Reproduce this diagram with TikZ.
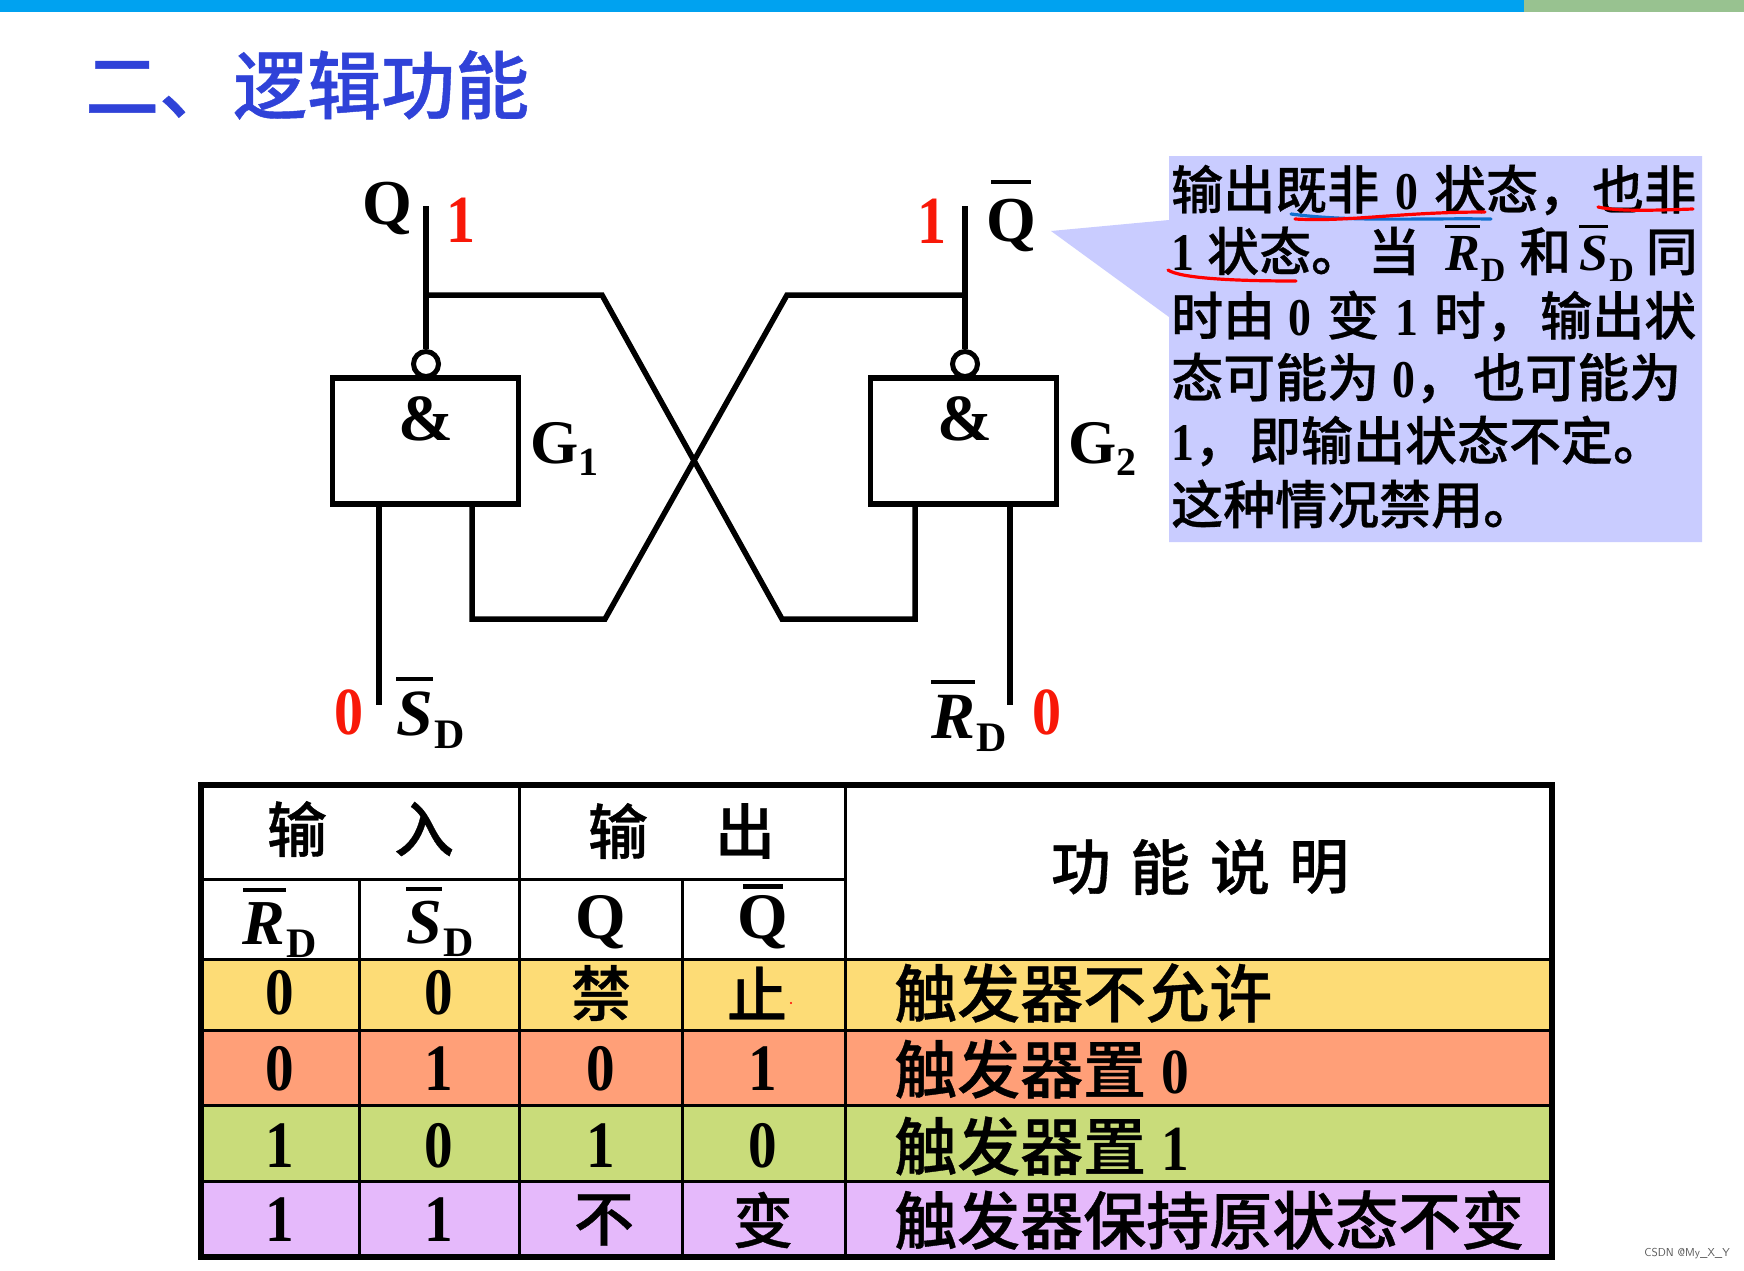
\documentclass[tikz,border=0pt]{standalone}
\usepackage{fontspec}
\setmainfont{Liberation Serif}
\newfontfamily\cjkb[FakeBold=0.6]{Noto Sans CJK SC Medium}
\newcommand\zh[1]{{\cjkb\mdseries #1}}
\newcommand\nd[1]{\scalebox{0.88}[1.02]{\bfseries #1}}
\newcommand\ovr[1]{\setbox0\hbox{#1}\rlap{\raisebox{0.82em}{\rule{\wd0}{0.065em}}}\box0}
\newcommand\ovq[1]{\rlap{\hspace{0.08em}\raisebox{#1}{\rule{0.62em}{0.065em}}}Q}
\newcommand\fs[1]{\fontsize{#1}{#1}\selectfont}
\newcommand\lab[3]{{\fs{#2}\ovr{\bfseries\itshape #1}\kern0.02em\raisebox{-0.2em}{\fs{#3}\bfseries D}}}
\newcommand\gp{\hspace{16pt}}
\definecolor{barblue}{HTML}{00A2F0}
\definecolor{bargreen}{HTML}{98C290}
\definecolor{titleblue}{HTML}{2F42D8}
\definecolor{callout}{HTML}{C9CCFF}
\definecolor{rowa}{HTML}{FDDC76}
\definecolor{rowb}{HTML}{FF9F78}
\definecolor{rowc}{HTML}{C9DC7A}
\definecolor{rowd}{HTML}{E5B9FB}
\definecolor{redlab}{HTML}{F81808}
\definecolor{markblue}{HTML}{1070D0}
\tikzset{
 wire/.style={line width=5.5pt,line join=miter,line cap=butt},
 gate/.style={draw,line width=5.5pt,minimum width=186pt,minimum height=126pt,inner sep=0pt,anchor=north west},
 bubble/.style={circle,draw,line width=5pt,minimum size=25pt,inner sep=0pt},
 txt/.style={inner sep=0pt,font=\bfseries\fs{60}},
 redt/.style={txt,text=redlab},
 cell/.style={inner sep=0pt,font=\bfseries\fs{65}},
 zhcell/.style={inner sep=0pt,font=\cjkb\fs{60}},
 noteline/.style={inner sep=0pt,anchor=west,font=\bfseries\fs{52}},
 desc/.style={inner sep=0pt,anchor=west,font=\bfseries\fs{63}},
 grid/.style={line width=3pt},
 ink/.style={line width=3.2pt,line cap=round,draw=red}
}
\begin{document}
\begin{tikzpicture}[x=1pt,y=-1pt]
\useasboundingbox (0,0) rectangle (1744,1270);
\fill[white] (0,0) rectangle (1744,1270);
\fill[barblue] (0,0) rectangle (1524,12);
\fill[bargreen] (1524,0) rectangle (1744,12);
\node[inner sep=0pt,anchor=west,text=titleblue,font=\cjkb\fs{74}] (title) at (85,85) {二、逻辑功能};

% callout
\fill[callout] (1169,156) -- (1702,156) -- (1702,542) -- (1169,542) -- (1169,317) -- (1051,231) -- (1169,220) -- cycle;
\node[noteline] (n1) at (1171,190) {\makebox[525pt][s]{\zh{输出既非}\gp\nd{0}\gp\zh{状态，}\hfill\zh{也非}}};
\node[noteline] (n2) at (1171,253) {\nd{1} \zh{状态。}\hspace{5pt}\zh{当}\hspace{25pt}\lab{R}{52}{34}\hspace{14pt}\zh{和}\hspace{8pt}\lab{S}{52}{34}\hspace{12pt}\zh{同}};
\node[noteline] (n3) at (1171,316) {\makebox[525pt][s]{\zh{时由} \nd{0}\gp\zh{变}\gp\nd{1}\gp\zh{时，}\hfill\zh{输出状}}};
\node[noteline] (n4) at (1171,378) {\makebox[510pt][s]{\zh{态可能为} \nd{0}\zh{，}\hfill\zh{也可能为}}};
\node[noteline] (n5) at (1171,441) {\nd{1}\zh{，}\hspace{3pt}\zh{即输出状态不定。}};
\node[noteline] (n6) at (1171,504) {\zh{这种情况禁用。}};
\draw[ink,markblue] (1291,214) .. controls (1350,222) and (1420,218) .. (1491,219);
\draw[ink] (1295,219) .. controls (1350,222) and (1400,212) .. (1485,212);
\draw[ink] (1598,207) .. controls (1620,212) and (1660,210) .. (1693,209);
\draw[ink] (1168,270) .. controls (1180,278) and (1230,281) .. (1296,281);

% gates
\node[gate] (g1) at (329.5,375) {};
\node[gate] (g2) at (867.5,375) {};
\node[bubble] (b1) at (426,364) {};
\node[bubble] (b2) at (965,364) {};
\node[txt,font=\bfseries\fs{66}] (amp1) at (426,419) {\&};
\node[txt,font=\bfseries\fs{66}] (amp2) at (965,419) {\&};
\node[txt,anchor=west,font=\bfseries\fs{62}] (gl1) at (530,449) {G\raisebox{-0.18em}{\fs{40}1}};
\node[txt,anchor=west,font=\bfseries\fs{62}] (gl2) at (1068,449) {G\raisebox{-0.18em}{\fs{40}2}};

\coordinate (qtop) at (426,206);
\coordinate (qbtop) at (965,206);
\coordinate (qj) at (426,295);
\coordinate (qbj) at (965,295);
\coordinate (x1a) at (602,295);
\coordinate (x1b) at (782,619);
\coordinate (x1c) at (915,619);
\coordinate (x1d) at (915,504);
\coordinate (x2a) at (787,295);
\coordinate (x2b) at (605,619);
\coordinate (x2c) at (472,619);
\coordinate (x2d) at (472,504);
\coordinate (sd0) at (379,504);
\coordinate (sd1) at (379,705);
\coordinate (rd0) at (1010,504);
\coordinate (rd1) at (1010,705);
\draw[wire] (qtop) -- (b1.north);
\draw[wire] (qbtop) -- (b2.north);
\draw[wire] (qj) -- (x1a) -- (x1b) -- (x1c) -- (x1d);
\draw[wire] (qbj) -- (x2a) -- (x2b) -- (x2c) -- (x2d);
\draw[wire] (sd0) -- (sd1);
\draw[wire] (rd0) -- (rd1);

\node[txt,font=\bfseries\fs{64}] (lq) at (387,208) {Q};
\node[redt,font=\bfseries\fs{66}] (l1a) at (461,220) {\nd{1}};
\node[redt,font=\bfseries\fs{66}] (l1b) at (932,221) {\nd{1}};
\node[txt,font=\bfseries\fs{64},anchor=base] (lqb) at (1011,241) {\ovq{0.89em}};
\node[redt,font=\bfseries\fs{66}] (l0a) at (349,712) {\nd{0}};
\node[redt,font=\bfseries\fs{66}] (l0b) at (1047,712) {\nd{0}};
\node[inner sep=0pt,anchor=west] (lsd) at (396,713) {\lab{S}{66}{42}};
\node[inner sep=0pt,anchor=west] (lrd) at (931,716) {\lab{R}{66}{42}};

% table
\fill[rowa] (201,959) rectangle (1552,1030);
\fill[rowb] (201,1030) rectangle (1552,1105);
\fill[rowc] (201,1105) rectangle (1552,1181);
\fill[rowd] (201,1181) rectangle (1552,1257);
\draw[grid] (201,879) -- (845,879);
\draw[grid] (201,959) -- (1552,959);
\draw[grid] (201,1030) -- (1552,1030);
\draw[grid] (201,1105) -- (1552,1105);
\draw[grid] (201,1181) -- (1552,1181);
\draw[grid] (359,879) -- (359,1257);
\draw[grid] (519,785) -- (519,1257);
\draw[grid] (682,879) -- (682,1257);
\draw[grid] (845,785) -- (845,1257);
\draw[line width=5.5pt] (201,785) rectangle (1552,1257);

\node[zhcell] (h1) at (297,829) {输};
\node[zhcell] (h2) at (424,829) {入};
\node[zhcell] (h3) at (618,831) {输};
\node[zhcell] (h4) at (745,831) {出};
\node[zhcell] (h5) at (1081,867) {功};
\node[zhcell] (h6) at (1160,867) {能};
\node[zhcell] (h7) at (1240,867) {说};
\node[zhcell] (h8) at (1319,867) {明};
\node[inner sep=0pt] (hr) at (280,923) {\lab{R}{64}{42}};
\node[inner sep=0pt] (hs) at (440,922) {\lab{S}{64}{42}};
\node[cell] (hq) at (601,922) {Q};
\node[cell,anchor=base] (hqb) at (763,938) {\ovq{0.76em}};

\node[cell] (a1) at (280,993) {\nd{0}};
\node[cell] (a2) at (439,993) {\nd{0}};
\node[zhcell] (a3) at (601,993) {禁};
\node[zhcell] (a4) at (757,993) {止};
\node[cell] (b1t) at (280,1069) {\nd{0}};
\node[cell] (b2t) at (439,1069) {\nd{1}};
\node[cell] (b3t) at (601,1069) {\nd{0}};
\node[cell] (b4t) at (763,1069) {\nd{1}};
\node[cell] (c1) at (280,1146) {\nd{1}};
\node[cell] (c2) at (439,1146) {\nd{0}};
\node[cell] (c3) at (601,1146) {\nd{1}};
\node[cell] (c4) at (763,1146) {\nd{0}};
\node[cell] (d1) at (280,1220) {\nd{1}};
\node[cell] (d2) at (439,1220) {\nd{1}};
\node[zhcell] (d3) at (604,1220) {不};
\node[zhcell] (d4) at (763,1220) {变};
\node[desc] (e1) at (894,993) {\zh{触发器不允许}};
\node[desc] (e2) at (894,1069) {\zh{触发器置} \nd{0}};
\node[desc] (e3) at (894,1146) {\zh{触发器置} \nd{1}};
\node[desc] (e4) at (894,1220) {\zh{触发器保持原状态不变}};
\fill[red] (791,1003) circle (1.2pt);
\node[inner sep=0pt,anchor=east,text=black!65,font=\sffamily\fs{11.5}] (wm) at (1730,1254) {CSDN @My\_X\_Y};
\end{tikzpicture}
\end{document}
